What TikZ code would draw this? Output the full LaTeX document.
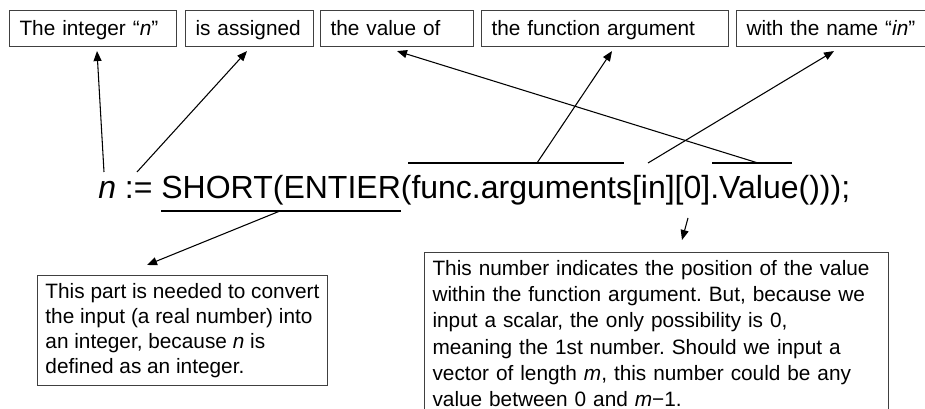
\documentclass[tikz,border=0pt]{standalone}
\usepackage{fontspec}
\setmainfont{Liberation Sans}
\usetikzlibrary{arrows.meta,calc}
\frenchspacing

\begin{document}
\begin{tikzpicture}[x=0.75pt, y=-0.75pt, >={Triangle[length=7.5pt,width=6pt]},
  labelbox/.style={draw=black!75, line width=0.8pt, anchor=north west, inner xsep=7.5pt, inner ysep=0pt,
    minimum height=27pt, text height=11pt, text depth=0pt, align=left, font=\fontsize{15.6}{18.6}\selectfont},
  notebox/.style={draw=black!75, line width=0.8pt, inner xsep=6pt, inner ysep=6pt,
    align=left, font=\fontsize{15.6}{18.6}\selectfont}]
\useasboundingbox (0,0) rectangle (925,409);
\clip (0,0) rectangle (925,409);

% the words of the sentence
\node[labelbox, text width=110.25pt] (tint) at (9,10) {The integer “\textit{n}”};
\node[labelbox, text width=81pt] (tassign) at (185,10) {is assigned};
\node[labelbox, text width=99.75pt] (tvalue) at (320,10) {the value of};
\node[labelbox, text width=170.25pt] (tfunc) at (481,10) {the function argument};
\node[labelbox, text width=135pt] (tname) at (736,10) {with the name “\textit{in}”};

% the code line
\node[anchor=base west, inner sep=0pt, font=\fontsize{24}{28}\selectfont] (code) at (98,199)
  {\textit{n} := SHORT(ENTIER(func.arguments[in][0].Value()));};

% marks on the code
\draw[line width=0.8pt] (161,211) -- (401,211);
\draw[line width=0.8pt] (408,163) -- (624,163);
\draw[line width=0.8pt] (712,163) -- (792,163);
\coordinate (pn) at (104,172);
\coordinate (passign) at (137,172);
\coordinate (pshort) at (280,211);
\coordinate (pargs) at (537,163);
\coordinate (pin) at (648,163);
\coordinate (pvalue) at (758,163);
\coordinate (pzero) at (688,218);

% notes
\node[notebox, anchor=north east] (nshort) at (328,275)
  {This part is needed to convert\\the input (a real number) into\\an integer, because \textit{n} is\\defined as an integer.};
\node[notebox, anchor=north west, text width=336pt] (nzero) at (424,252)
  {This number indicates the position of the value\\[1pt]within the function argument. But, because we\\[1pt]input a scalar, the only possibility is 0,\\[1pt]meaning the 1st number. Should we input a\\[1pt]vector of length \textit{m}, this number could be any\\[1pt]value between 0 and \textit{m}−1.\\[6pt]\mbox{}};

% arrows
\draw[->, line width=0.8pt] (pn) -- ($(tint.south west)+(88,4)$);
\draw[->, line width=0.8pt] (passign) -- ($(tassign.south west)+(62,4)$);
\draw[->, line width=0.8pt] (pvalue) -- ($(tvalue.south west)+(77,4)$);
\draw[->, line width=0.8pt] (pargs) -- ($(tfunc.south west)+(131,4)$);
\draw[->, line width=0.8pt] (pin) -- ($(tname.south west)+(98,4)$);
\draw[->, line width=0.8pt] (pshort) -- ($(nshort.north east)+(-181,-10)$);
\draw[->, line width=0.8pt] (pzero) -- ($(nzero.north west)+(258,-12)$);
\end{tikzpicture}
\end{document}
